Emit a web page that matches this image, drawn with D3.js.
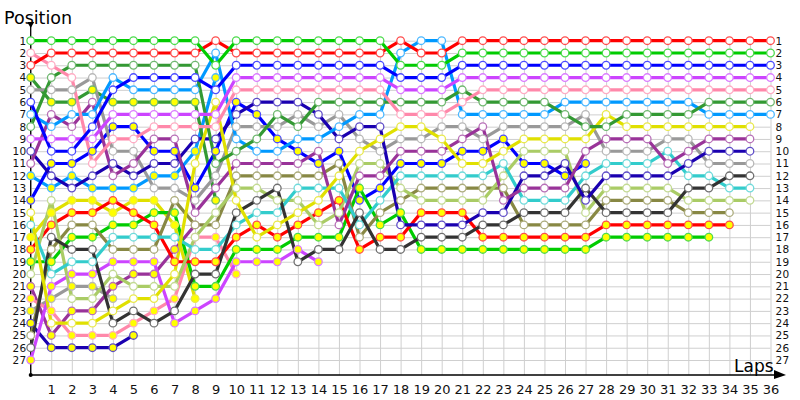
<!DOCTYPE html>
<html><head><meta charset="utf-8">
<script src="https://cdn.jsdelivr.net/npm/d3@7"></script>
<style>body{margin:0;background:#fff}svg{display:block}text{font-family:"DejaVu Sans",Verdana,sans-serif}</style>
</head><body><svg id="c" width="800" height="400"></svg>
<script>
const lapTicks = d3.range(0, 37);
const lapLabels = d3.range(1, 37);
const positions = d3.range(1, 28);

const lime1   = [1,1,1,1,1,1,1,1,1,3,1,1,1,1,1,1,1,1,3,3,3,2,2,2,2,2,2,2,2,2,2,2,2,2,2,2,2];
const red1    = [3,2,2,2,2,2,2,2,2,1,2,2,2,2,2,2,2,2,1,2,2,1,1,1,1,1,1,1,1,1,1,1,1,1,1,1,1];
const blue1   = [6,10,10,8,5,4,4,4,4,5,3,3,3,3,3,3,3,3,4,4,4,3,3,3,3,3,3,3,3,3,3,3,3,3,3,3,3];
const violet1 = [9,9,9,9,7,7,7,7,7,7,4,4,4,4,4,4,4,4,5,5,5,4,4,4,4,4,4,4,4,4,4,4,4,4,4,4,4];
const pink1   = [2,3,4,11,9,9,8,8,8,8,5,5,5,5,5,5,5,5,7,7,7,6,5,5,5,5,5,5,5,5,5,5,5,5,5,5,5];
const dgreen1 = [8,4,3,3,3,3,3,3,3,11,10,9,7,8,6,6,6,6,6,6,6,5,6,6,6,6,7,8,8,7,7,7,7,6,6,6,6];
const lblue1  = [7,8,7,7,4,5,5,5,5,2,9,10,10,9,9,8,7,7,2,1,1,7,7,7,7,7,6,6,6,6,6,6,6,7,7,7,7];
const yellow1 = [15,24,24,24,23,22,22,20,11,6,14,17,16,15,14,12,10,9,8,8,9,11,11,10,9,9,9,9,7,8,8,8,8,8,8,8];
const purple1 = [11,7,8,6,12,11,9,9,15,13,11,11,11,11,10,16,12,12,10,10,10,9,8,14,13,13,13,10,9,9,9,11,10,9,9,9];
const navy1   = [10,12,13,12,11,12,11,11,9,9,7,6,6,6,7,9,8,8,16,16,16,16,15,15,12,12,11,14,12,12,12,12,11,10,10,10];
const gray1   = [5,5,5,4,10,10,13,13,14,12,8,8,8,7,8,7,9,10,9,9,8,8,9,8,8,8,8,7,10,10,10,9,9,11,11,11];
const black1  = [26,17,18,18,24,23,24,23,20,20,15,14,13,19,18,18,15,18,18,17,17,17,16,16,15,15,15,13,15,15,15,15,13,13,12,12];
const cyan1   = [16,20,19,19,17,17,17,17,18,18,16,15,15,13,13,13,16,14,12,12,12,12,12,11,14,14,14,12,11,11,11,10,12,12,13,13];
const lolive1 = [20,14,22,22,20,21,21,21,17,15,13,13,14,14,16,15,11,11,13,14,14,14,14,12,10,10,10,15,13,13,13,13,14,14,14,14];
const olive1  = [25,18,16,16,18,18,18,14,16,16,12,12,12,12,12,11,17,15,14,13,13,13,13,13,16,16,16,16,14,14,14,14,15,15,15];
const redY    = [18,16,15,15,14,15,16,19,19,19,17,16,17,16,15,14,18,17,17,15,15,15,17,17,17,17,17,17,16,16,16,16,16,16,16];
const limeY   = [19,19,17,17,16,16,15,15,21,21,18,18,18,17,17,17,13,16,15,18,18,18,18,18,18,18,18,18,17,17,17,17,17,17];
const blueY   = [14,11,11,10,8,8,10,10,13,10,6,7,9,10,11,10,14,13,11,11,11,10,10,9,11,11,12,11];
const violetY = [27,21,20,20,19,19,19,24,23,22,19,19,19,18,19];
const pinkY   = [22,23,25,25,25,24,23,22,17,17,20];
const dgreenY = [4,6,6,5,6,6,6,6,6,14];
const lblueY  = [12,13,12,13,13,13,12,12,10,4];
const yellowY = [17,15,14,14,15,14,14,16,22];
const purpleY = [21,25,23,23,21,20,20,18,16];
const grayY   = [23,22,21,21,22];
const navyY   = [24,26,26,26,26,25];

const series = [
  {data: grayY,   color: "#999999", fill: "#ffff00"},
  {data: navyY,   color: "#1a00b0", fill: "#ffff00"},
  {data: purpleY, color: "#993399", fill: "#ffff00"},
  {data: yellowY, color: "#e0e000", fill: "#ffff00"},
  {data: lblueY,  color: "#0099ff", fill: "#ffff00"},
  {data: dgreenY, color: "#339933", fill: "#ffff00"},
  {data: pinkY,   color: "#ff88aa", fill: "#ffff00"},
  {data: violetY, color: "#cc44ff", fill: "#ffff00"},
  {data: blueY,   color: "#0000ff", fill: "#ffff00"},
  {data: limeY,   color: "#00cc00", fill: "#ffff00"},
  {data: redY,    color: "#ff0000", fill: "#ffff00"},
  {data: olive1,  color: "#888844", fill: "#ffffff"},
  {data: lolive1, color: "#aacc66", fill: "#ffffff"},
  {data: cyan1,   color: "#33cccc", fill: "#ffffff"},
  {data: black1,  color: "#333333", fill: "#ffffff"},
  {data: gray1,   color: "#999999", fill: "#ffffff"},
  {data: navy1,   color: "#1a00b0", fill: "#ffffff"},
  {data: purple1, color: "#993399", fill: "#ffffff"},
  {data: yellow1, color: "#e0e000", fill: "#ffffff"},
  {data: lblue1,  color: "#0099ff", fill: "#ffffff"},
  {data: dgreen1, color: "#339933", fill: "#ffffff"},
  {data: pink1,   color: "#ff88aa", fill: "#ffffff"},
  {data: violet1, color: "#cc44ff", fill: "#ffffff"},
  {data: blue1,   color: "#0000ff", fill: "#ffffff"},
  {data: red1,    color: "#ff0000", fill: "#ffffff"},
  {data: lime1,   color: "#00cc00", fill: "#ffffff"}
];

const svg = d3.select("#c");
const x = d3.scaleLinear().domain([0, 36]).range([30.7, 770.5]);
const y = d3.scaleLinear().domain([1, 27]).range([40.7, 360]);
const xl = d3.scaleLinear().domain([0.5, 36.5]).range([x(0.5), x(36.5)]);
const axisY = 375;

// grid
const g = svg.append("g");
g.append("g").attr("transform", `translate(0,${axisY})`)
  .call(d3.axisBottom(x).tickValues(lapTicks).tickSize(-(axisY - y(1))).tickFormat(""))
  .call(s => s.select(".domain").remove())
  .call(s => s.selectAll("line").attr("stroke", "#cfcfcf").attr("stroke-width", 1));
g.append("g").attr("transform", `translate(${x(0)},0)`)
  .call(d3.axisLeft(y).tickValues(positions).tickSize(-(x(36) - x(0))).tickFormat(""))
  .call(s => s.select(".domain").remove())
  .call(s => s.selectAll("line").attr("stroke", "#cfcfcf").attr("stroke-width", 1));

// axes labels
const la = svg.append("g").attr("transform", `translate(${x(0)},0)`)
  .call(d3.axisLeft(y).tickValues(positions).tickSize(0).tickPadding(4));
la.select(".domain").remove();
la.selectAll("text").attr("font-size", 10.5).attr("fill", "#111").attr("font-family", "DejaVu Sans").attr("letter-spacing", 0.4);
const ra = svg.append("g").attr("transform", `translate(${x(36)},0)`)
  .call(d3.axisRight(y).tickValues(positions).tickSize(0).tickPadding(5));
ra.select(".domain").remove();
ra.selectAll("text").attr("font-size", 10.5).attr("fill", "#111").attr("font-family", "DejaVu Sans").attr("letter-spacing", 0.4);
const ba = svg.append("g").attr("transform", `translate(0,${axisY})`)
  .call(d3.axisBottom(xl).tickValues(lapLabels).tickSize(0).tickPadding(10));
ba.select(".domain").remove();
ba.selectAll("text").attr("font-size", 13).attr("fill", "#111").attr("font-family", "DejaVu Sans");

// axis lines with arrows
svg.append("line").attr("x1", x(0)).attr("x2", x(0)).attr("y1", axisY).attr("y2", 22).attr("stroke", "#000").attr("stroke-width", 1.3);
svg.append("line").attr("x1", x(0)).attr("x2", 782).attr("y1", axisY).attr("y2", axisY).attr("stroke", "#000").attr("stroke-width", 1.3);
svg.append("path").attr("d", `M${x(0)-3.5},22 L${x(0)+3.5},22 L${x(0)},28 Z`).attr("fill", "#000");
svg.append("path").attr("d", `M774,370 L786,375 L774,379 Z`).attr("fill", "#000");
svg.append("circle").attr("cx", x(0)).attr("cy", axisY).attr("r", 2).attr("fill", "#000");
svg.append("text").attr("x", 4).attr("y", 24).attr("font-size", 17.5).attr("fill", "#000").text("Position");
svg.append("text").attr("x", 734).attr("y", 372).attr("font-size", 17).attr("fill", "#000").text("Laps");

// lines
const line = d3.line().x((d, i) => x(i)).y(d => y(d));
const lg = svg.append("g");
series.forEach(s => {
  lg.append("path").attr("d", line(s.data)).attr("fill", "none")
    .attr("stroke", s.color).attr("stroke-width", 3.2).attr("stroke-linejoin", "round");
});
const mg = svg.append("g");
series.forEach(s => {
  const ring = d3.interpolateRgb(s.color, "#ffffff")(0.3);
  mg.selectAll(null).data(s.data).enter().append("circle")
    .attr("cx", (d, i) => x(i)).attr("cy", d => y(d)).attr("r", 3.8)
    .attr("fill", s.fill).attr("stroke", ring).attr("stroke-width", 1.3);
});
</script></body></html>
